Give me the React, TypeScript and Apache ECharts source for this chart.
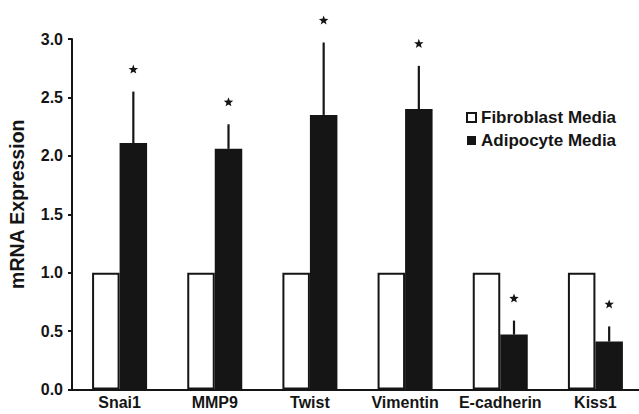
import React, { useEffect, useRef } from "react";
import * as echarts from "echarts";

const categories = ["Snai1", "MMP9", "Twist", "Vimentin", "E-cadherin", "Kiss1"];
const fibroblastValues = [1.0, 1.0, 1.0, 1.0, 1.0, 1.0];
const adipocyteValues = [2.11, 2.06, 2.35, 2.4, 0.47, 0.41];
const adipocyteErrors = [0.44, 0.21, 0.62, 0.37, 0.12, 0.13];
const significant = [true, true, true, true, true, true];
const yTicks = { min: 0, max: 3, interval: 0.5 };

const FONT = "'Liberation Sans', Arial, Helvetica, sans-serif";
const INK = "#151515";
const BAR_W = 27.5;

function starPoints(cx: number, cy: number, R: number, r: number) {
  const pts: number[][] = [];
  for (let i = 0; i < 10; i++) {
    const ang = -Math.PI / 2 + (i * Math.PI) / 5;
    const rad = i % 2 === 0 ? R : r;
    pts.push([cx + rad * Math.cos(ang), cy + rad * Math.sin(ang)]);
  }
  return pts;
}

export default function App() {
  const ref = useRef<HTMLDivElement>(null);
  useEffect(() => {
    if (!ref.current) return;
    const chart = echarts.init(ref.current, null, { renderer: "svg" });
    const errData = categories.map((_, i) => [i, adipocyteValues[i], adipocyteErrors[i], significant[i] ? 1 : 0]);
    chart.setOption({
      animation: false,
      backgroundColor: "#ffffff",
      textStyle: { fontFamily: FONT },
      grid: { left: 72, top: 39, width: 571, height: 350.5, containLabel: false, outerBoundsMode: "none" },
      legend: {
        orient: "vertical",
        left: 466,
        top: 109,
        padding: 0,
        itemWidth: 9,
        itemHeight: 9,
        itemGap: 6,
        icon: "rect",
        textStyle: { fontFamily: FONT, fontWeight: "bold", fontSize: 17, color: INK },
        data: ["Fibroblast Media", "Adipocyte Media"],
      },
      xAxis: {
        type: "category",
        data: categories,
        axisLine: { lineStyle: { color: INK, width: 2 } },
        axisTick: { show: false },
        axisLabel: { fontFamily: FONT, fontWeight: "bold", fontSize: 16, color: INK, margin: 5, interval: 0 },
      },
      yAxis: {
        type: "value",
        min: yTicks.min,
        max: yTicks.max,
        interval: yTicks.interval,
        name: "mRNA Expression",
        nameLocation: "middle",
        nameGap: 45,
        nameTextStyle: { fontFamily: FONT, fontWeight: "bold", fontSize: 19.5, color: INK, padding: [0, 0, 0, 20] },
        axisLine: { show: true, lineStyle: { color: INK, width: 2 } },
        axisTick: { show: true, length: 4, lineStyle: { color: INK, width: 2 } },
        splitLine: { show: false },
        axisLabel: {
          fontFamily: FONT,
          fontWeight: "bold",
          fontSize: 16,
          color: INK,
          margin: 9,
          formatter: (v: number) => v.toFixed(1),
        },
      },
      series: [
        {
          name: "Fibroblast Media",
          type: "bar",
          data: fibroblastValues,
          barWidth: BAR_W,
          barGap: "0%",
          itemStyle: { color: "#ffffff", borderColor: INK, borderWidth: 2 },
        },
        {
          name: "Adipocyte Media",
          type: "bar",
          data: adipocyteValues,
          barWidth: BAR_W,
          barGap: "0%",
          itemStyle: { color: INK, borderWidth: 0 },
        },
        {
          type: "custom",
          data: errData,
          z: 5,
          renderItem: (params: any, api: any) => {
            const i = api.value(0);
            const v = api.value(1);
            const e = api.value(2);
            const sig = api.value(3);
            const base = api.coord([i, v]);
            const top = api.coord([i, v + e]);
            const x = base[0] + BAR_W / 2;
            const children: any[] = [
              {
                type: "line",
                shape: { x1: x, y1: base[1], x2: x, y2: top[1] },
                style: { stroke: INK, lineWidth: 2.2 },
              },
            ];
            if (sig) {
              children.push({
                type: "polygon",
                shape: { points: starPoints(x, top[1] - 22, 5, 2.1) },
                style: { fill: INK },
              });
            }
            return { type: "group", children };
          },
        },
      ],
    });
    return () => chart.dispose();
  }, []);
  return (
    <div
      ref={ref}
      style={{ position: "fixed", left: 0, top: 0, width: 639, height: 414 }}
    />
  );
}
